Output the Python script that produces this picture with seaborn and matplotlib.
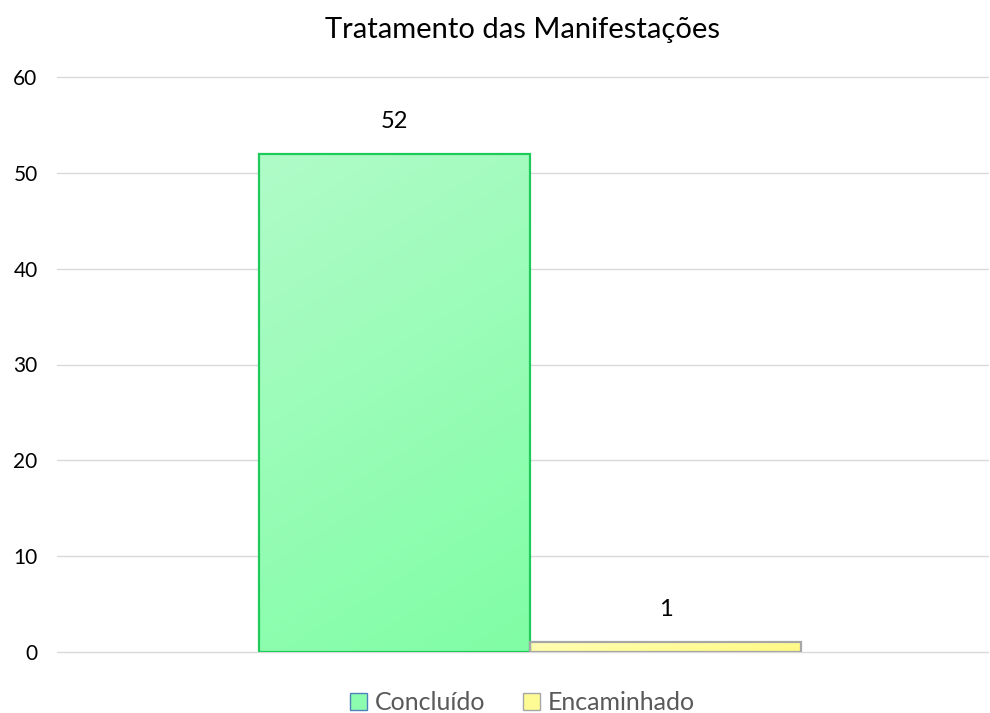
import numpy as np
import pandas as pd
import matplotlib.pyplot as plt
import matplotlib.colors as mcolors
import seaborn as sns

status = ['Concluído', 'Encaminhado']
valores = [52, 1]
cores = ['#8CFDAE', '#FFFB94']
bordas = ['#1ECB5A', '#A6A6A6']

df = pd.DataFrame({'grupo': ['Tratamento'] * 2, 'status': status, 'valor': valores})

sns.set_style('white')
plt.rcParams['font.family'] = ['Lato', 'DejaVu Sans']

fig = plt.figure(figsize=(9.9, 7.13), dpi=100)
ax = fig.add_axes([57 / 990, 1 - 652 / 713, 931 / 990, 575 / 713])

sns.barplot(data=df, x='grupo', y='valor', hue='status', palette=cores,
            saturation=1, width=0.582, dodge=True, ax=ax, legend=True)

# bordas e gradiente
grad_cmaps = [
    mcolors.LinearSegmentedColormap.from_list('g', ['#80FEA5', '#B0FBC8']),
    mcolors.LinearSegmentedColormap.from_list('y', ['#FFF97F', '#FFFFB8']),
]
bars = [p for p in ax.patches if p.get_height() > 0][:2]
for i, p in enumerate(bars):
    p.set_edgecolor(bordas[i])
    p.set_facecolor('none')
    p.set_linewidth(1.6)
    p.set_zorder(3)
    x0, w, h = p.get_x(), p.get_width(), p.get_height()
    yy, xx = np.mgrid[0:1:200j, 0:1:200j]
    g = 0.75 * yy + 0.25 * (1 - xx) if i == 0 else 0.3 * yy + 0.7 * (1 - xx)
    im = ax.imshow(g, extent=[x0, x0 + w, 0, h], origin='lower', aspect='auto',
                   cmap=grad_cmaps[i], zorder=2.9)
    im.set_clip_path(p)
    ax.text(x0 + w / 2, h + 2.3, str(valores[i]), ha='center', va='bottom',
            fontsize=17, color='#000000')

ax.set_xlim(-0.508, 0.492)
ax.set_ylim(0, 60)
ax.set_yticks(range(0, 61, 10))
ax.yaxis.grid(True, color='#D9D9D9', linewidth=1)
for gl in ax.get_ygridlines():
    gl.set_clip_on(False)
ax.set_axisbelow(True)
ax.set_xticks([])
ax.set_xlabel('')
ax.set_ylabel('')
ax.tick_params(axis='y', labelsize=15, colors='#000000', length=0, pad=14)
for s in ax.spines.values():
    s.set_visible(False)

ax.set_title('Tratamento das Manifestações', fontsize=21, color='#000000', pad=28)

handles, labels = ax.get_legend_handles_labels()
handles[0].set_edgecolor('#4F81BD')
handles[0].set_facecolor('#8CFDAE')
handles[1].set_edgecolor('#A6A6A6')
handles[1].set_facecolor('#FFFB94')
ax.legend(handles, labels, loc='upper center', bbox_to_anchor=(0.5, -0.038),
          ncol=2, frameon=False, fontsize=18, labelcolor='#595959',
          handlelength=0.7, handleheight=0.7, handletextpad=0.3, columnspacing=1.5,
          borderpad=0.2)

fig.savefig('out.png', dpi=100)
